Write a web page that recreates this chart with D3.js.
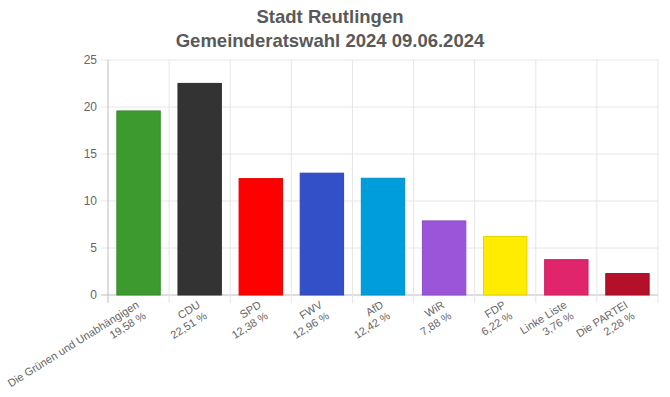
<!DOCTYPE html>
<html>
<head>
<meta charset="utf-8">
<script src="https://cdn.jsdelivr.net/npm/d3@7"></script>
<style>
  body { margin: 0; background: #fff; }
  text { font-family: "Liberation Sans", Arial, sans-serif; }
</style>
</head>
<body>
<div id="chart"></div>
<script>
const parties = ["Die Grünen und Unabhängigen", "CDU", "SPD", "FWV", "AfD", "WiR", "FDP", "Linke Liste", "Die PARTEI"];
const shares = [19.58, 22.51, 12.38, 12.96, 12.42, 7.88, 6.22, 3.76, 2.28];
const colors = ["#3d9a2f", "#333333", "#ff0000", "#3450c8", "#009ddc", "#9b55d9", "#ffec00", "#e0256c", "#b5102a"];
const yTicks = [0, 5, 10, 15, 20, 25];
const titleLines = ["Stadt Reutlingen", "Gemeinderatswahl 2024 09.06.2024"];

const data = parties.map((p, i) => ({name: p, value: shares[i], color: colors[i]}));

const svg = d3.select('#chart').append('svg')
    .attr('width', 670)
    .attr('height', 397);

const margin = {top: 60, right: 12, bottom: 102, left: 108};
const width = 670 - margin.left - margin.right;
const height = 397 - margin.top - margin.bottom;

const g = svg.append("g").attr("transform", `translate(${margin.left}, ${margin.top})`);

const xScale = d3.scaleBand()
    .domain(parties)
    .range([0, width])
    .paddingInner(0.29)
    .paddingOuter(0.145);

const yScale = d3.scaleLinear()
    .domain([0, 25])
    .range([height, 0]);

const de = d3.formatLocale({decimal: ",", thousands: ".", grouping: [3], currency: ["", " €"]});
const pct = de.format(".2f");

// title
svg.append("text")
    .attr("text-anchor", "middle")
    .style("font-size", "18.5px")
    .style("font-weight", "bold")
    .style("fill", "#595959")
    .selectAll("tspan")
    .data(titleLines)
    .enter()
    .append("tspan")
    .attr("x", 330)
    .attr("y", (d, i) => 23 + i * 24)
    .text(d => d);

// horizontal grid
g.append("g")
    .selectAll("line")
    .data(yTicks)
    .enter()
    .append("line")
    .attr("x1", -7)
    .attr("x2", width)
    .attr("y1", d => yScale(d))
    .attr("y2", d => yScale(d))
    .attr("stroke", d => d === 0 ? "#bdbdbd" : "#e6e6e6")
    .attr("stroke-width", 1);

// vertical grid at band boundaries
const bounds = d3.range(parties.length + 1).map(i => i * width / parties.length);
g.append("g")
    .selectAll("line")
    .data(bounds)
    .enter()
    .append("line")
    .attr("x1", d => d)
    .attr("x2", d => d)
    .attr("y1", 0)
    .attr("y2", height + 8)
    .attr("stroke", (d, i) => i === 0 ? "#bdbdbd" : "#e6e6e6")
    .attr("stroke-width", 1);

// y axis labels
const yAxis = d3.axisLeft(yScale)
    .tickValues(yTicks)
    .tickSize(0)
    .tickPadding(11);

g.append("g")
    .call(yAxis)
    .call(a => a.select(".domain").remove())
    .selectAll("text")
    .style("font-family", "Liberation Sans, Arial, sans-serif")
    .style("font-size", "12px")
    .style("fill", "#666");

// bars
g.selectAll(".bar")
    .data(data)
    .enter()
    .append("rect")
    .attr("class", "bar")
    .attr("x", d => xScale(d.name))
    .attr("y", d => yScale(d.value))
    .attr("width", xScale.bandwidth())
    .attr("height", d => height - yScale(d.value))
    .attr("fill", d => d.color)
    .attr("stroke", d => d3.color(d.color).darker(0.3))
    .attr("stroke-width", 1);

// rotated two-line category labels
const labels = g.selectAll(".xlabel")
    .data(data)
    .enter()
    .append("text")
    .attr("class", "xlabel")
    .attr("text-anchor", "end")
    .attr("transform", d => `translate(${xScale(d.name) + xScale.bandwidth() / 2 - 3}, ${height + 5}) rotate(-32)`)
    .style("font-size", "11px")
    .style("fill", "#666");

labels.append("tspan")
    .attr("x", 0)
    .attr("y", 8)
    .text(d => d.name);

labels.append("tspan")
    .attr("x", 0)
    .attr("y", 21)
    .text(d => pct(d.value) + " %");
</script>
</body>
</html>
